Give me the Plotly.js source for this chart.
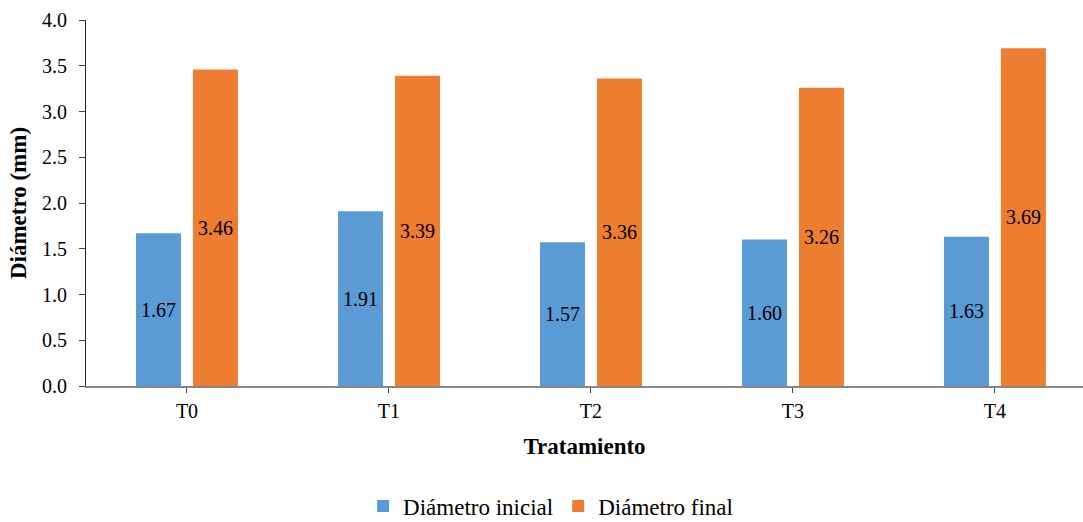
<!DOCTYPE html>
<html>
<head>
<meta charset="utf-8">
<script src="https://cdn.plot.ly/plotly-3.0.1.min.js"></script>
<style>html,body{margin:0;padding:0;background:#fff;}#chart{width:1083px;height:522px;}</style>
</head>
<body>
<div id="chart"></div>
<script>
var categories = ["T0", "T1", "T2", "T3", "T4"];
var diametroInicial = [1.67, 1.91, 1.57, 1.60, 1.63];
var diametroFinal = [3.46, 3.39, 3.36, 3.26, 3.69];
var yTicks = [0, 0.5, 1, 1.5, 2, 2.5, 3, 3.5, 4];

var fontFam = "Liberation Serif";

function fmt(a){ return a.map(function(v){ return v.toFixed(2); }); }

var traces = [
  {
    type: "bar", name: "Diámetro inicial", x: categories, y: diametroInicial,
    marker: {color: "#5B9BD5"},
    text: fmt(diametroInicial), textposition: "inside", insidetextanchor: "middle",
    textangle: 0, textfont: {family: fontFam, size: 20, color: "#000"},
    hoverinfo: "x+y"
  },
  {
    type: "bar", name: "Diámetro final", x: categories, y: diametroFinal,
    marker: {color: "#ED7D31"},
    text: fmt(diametroFinal), textposition: "inside", insidetextanchor: "middle",
    textangle: 0, textfont: {family: fontFam, size: 20, color: "#000"},
    hoverinfo: "x+y"
  }
];

var layout = {
  width: 1083, height: 522,
  margin: {l: 86, r: 0, t: 20, b: 136, autoexpand: false},
  paper_bgcolor: "#fff", plot_bgcolor: "#fff",
  font: {family: fontFam, size: 20, color: "#000"},
  barmode: "group", bargap: 0.436, bargroupgap: 0.21,
  showlegend: true,
  legend: {orientation: "h", x: 0.466, xanchor: "center", y: -0.328, yanchor: "middle",
           font: {family: fontFam, size: 23, color: "#000"}, itemwidth: 30, traceorder: "normal"},
  xaxis: {
    type: "category", range: [-0.5, 4.436],
    showline: true, linecolor: "#868686", linewidth: 1.5,
    ticks: "outside", ticklen: 5, tickcolor: "#444",
    ticklabelstandoff: 1,
    showgrid: false, zeroline: false,
    tickfont: {family: fontFam, size: 20, color: "#000"},
    title: {text: "<b>Tratamiento</b>", font: {family: fontFam, size: 23, color: "#000"}, standoff: 17}
  },
  yaxis: {
    range: [0, 4], tickvals: yTicks, tickformat: ".1f",
    showline: true, linecolor: "#222", linewidth: 1,
    ticks: "outside", ticklen: 6, tickcolor: "#444",
    ticklabelstandoff: 8,
    showgrid: false, zeroline: false,
    tickfont: {family: fontFam, size: 20, color: "#000"},
    title: {text: "<b>Diámetro (mm)</b>", font: {family: fontFam, size: 23, color: "#000"}, standoff: 8}
  }
};

Plotly.newPlot("chart", traces, layout, {displayModeBar: false, staticPlot: true});
</script>
</body>
</html>
